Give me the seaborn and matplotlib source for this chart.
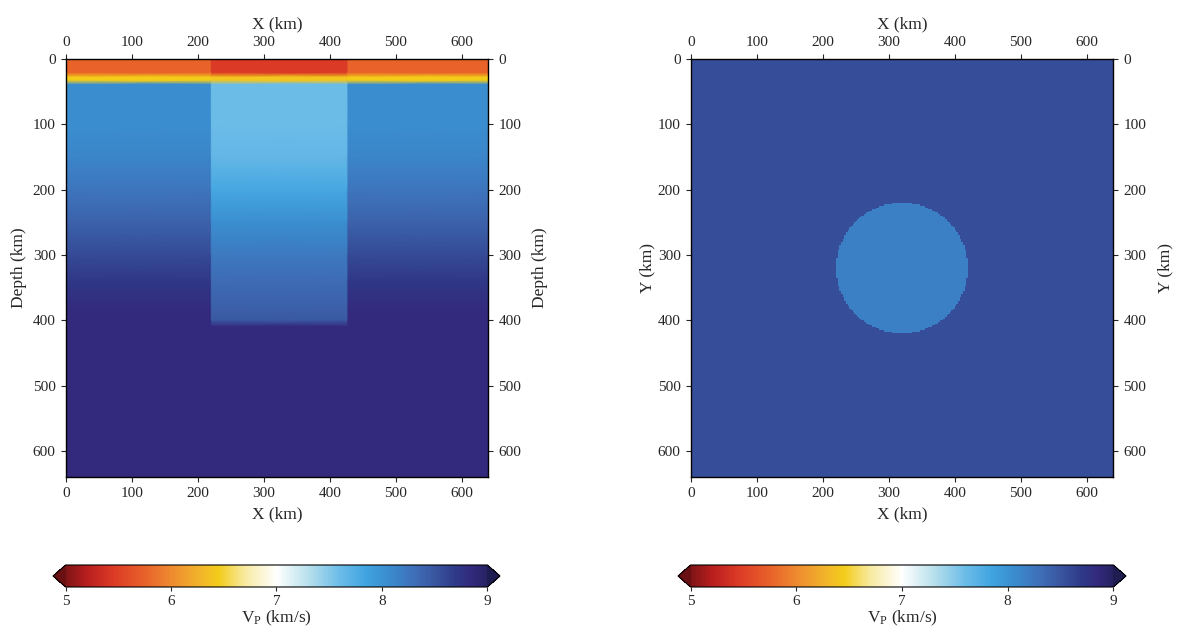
import numpy as np
import matplotlib
matplotlib.use("Agg")
import matplotlib.pyplot as plt
from matplotlib.colors import LinearSegmentedColormap, Normalize
import seaborn as sns

# ---------------- data ----------------
# colour scale (Vp, km/s)
cmap_vals = [5.0, 5.2, 5.45, 5.75, 6.0, 6.3, 6.45, 6.7, 7.0, 7.3, 7.6, 7.85, 8.05, 8.3, 8.5, 8.7, 8.85, 9.0]
cmap_cols = ["#7f1416", "#b81e1e", "#dc3a26", "#e8622a", "#ee8a30", "#f2b82a", "#f3cc1a", "#f7eaa0",
             "#ffffff", "#b8e0ec", "#6cbce8", "#40a4e0", "#3a8ed0", "#3e70b8", "#3a56a0", "#2e3a88",
             "#33297d", "#262262"]
vmin, vmax = 5.0, 9.0
cbar_ticks = [5, 6, 7, 8, 9]

# left panel: X-Depth section (nodes)
x_nodes = [0, 219, 221, 426, 428, 640]
block_cols = [False, False, True, True, False, False]
z_nodes = [0, 21, 28, 33, 39, 100, 150, 200, 250, 300, 340, 380, 400, 410, 640]
vp_background = [5.75, 5.75, 6.45, 6.45, 8.05, 8.05, 8.12, 8.25, 8.40, 8.58, 8.72, 8.83, 8.85, 8.85, 8.85]
vp_block = [5.45, 5.45, 6.40, 6.40, 7.60, 7.60, 7.65, 7.82, 8.05, 8.22, 8.33, 8.42, 8.47, 8.85, 8.85]

# right panel: map view slice
map_extent = 640.0
map_cell = 2.5
vp_map_background = 8.55
vp_map_circle = 8.16
circle_center = (320.0, 320.0)
circle_radius = 100.0

axis_ticks = [0, 100, 200, 300, 400, 500, 600]

# ---------------- style ----------------
sns.set_theme(style="ticks")
plt.rcParams["font.family"] = ["Liberation Serif", "DejaVu Serif"]
plt.rcParams["mathtext.fontset"] = "custom"
plt.rcParams["mathtext.rm"] = "Liberation Serif"
plt.rcParams["mathtext.it"] = "Liberation Serif:italic"
txt = "#262626"
plt.rcParams.update({
    "text.color": txt, "axes.labelcolor": txt, "xtick.color": txt, "ytick.color": txt,
    "xtick.labelsize": 11, "ytick.labelsize": 11, "axes.labelsize": 12.5,
    "xtick.major.size": 3.5, "ytick.major.size": 3.5,
    "xtick.major.width": 0.8, "ytick.major.width": 0.8,
    "axes.edgecolor": "black", "axes.linewidth": 1.0,
})

cmap = LinearSegmentedColormap.from_list(
    "vp", [((v - vmin) / (vmax - vmin), c) for v, c in zip(cmap_vals, cmap_cols)], N=512)
cmap.set_under("#6a1012")
cmap.set_over("#1e1c50")
norm = Normalize(vmin=vmin, vmax=vmax)

W, H = 1178, 632
fig = plt.figure(figsize=(W / 100, H / 100), dpi=100)

def rect(x0, y0, x1, y1):
    return [x0 / W, 1 - y1 / H, (x1 - x0) / W, (y1 - y0) / H]

ax1 = fig.add_axes(rect(66, 59, 488, 477))
ax2 = fig.add_axes(rect(691, 59, 1113, 477))
cax1 = fig.add_axes(rect(53, 565, 500, 587))
cax2 = fig.add_axes(rect(678, 565, 1126, 587))

# left panel
XX, ZZ = np.meshgrid(np.array(x_nodes, float), np.array(z_nodes, float))
V = np.where(np.array(block_cols)[None, :],
             np.array(vp_block)[:, None], np.array(vp_background)[:, None])
m1 = ax1.pcolormesh(XX, ZZ, V, cmap=cmap, norm=norm, shading="gouraud", rasterized=True)

# right panel
n = int(map_extent / map_cell)
centers = (np.arange(n) + 0.5) * map_cell
GX, GY = np.meshgrid(centers, centers)
inside = np.hypot(GX - circle_center[0], GY - circle_center[1]) <= circle_radius
M = np.where(inside, vp_map_circle, vp_map_background)
m2 = ax2.imshow(M, cmap=cmap, norm=norm, extent=[0, map_extent, map_extent, 0],
                interpolation="nearest", aspect="auto")

for ax, ylab, lp in [(ax1, "Depth (km)", 4), (ax2, "Y (km)", 2)]:
    ax.set_xlim(0, 640)
    ax.set_ylim(640, 0)
    ax.set_xticks(axis_ticks)
    ax.set_yticks(axis_ticks)
    ax.tick_params(direction="out", top=True, right=True, labeltop=True, labelright=True,
                   pad=4)
    ax.set_xlabel("X (km)", labelpad=4)
    ax.set_ylabel(ylab, labelpad=lp)
    secx = ax.secondary_xaxis("top")
    secx.set_xticks([])
    secx.set_xlabel("X (km)", labelpad=22)
    secx.spines["top"].set_visible(False)
    secy = ax.secondary_yaxis("right")
    secy.set_yticks([])
    secy.set_ylabel(ylab, labelpad=32)
    secy.spines["right"].set_visible(False)
    for s in ax.spines.values():
        s.set_visible(True)

for cax, m in [(cax1, m1), (cax2, m2)]:
    cb = fig.colorbar(m, cax=cax, orientation="horizontal", extend="both", extendfrac=0.03,
                      ticks=cbar_ticks)
    cb.outline.set_edgecolor("black")
    cb.outline.set_linewidth(0.8)
    cb.ax.tick_params(direction="out", length=3, labelsize=11, pad=3)
    cb.set_label(r"V$_\mathrm{P}$ (km/s)", labelpad=0, fontsize=12.5)

fig.savefig("out.png", dpi=100)
